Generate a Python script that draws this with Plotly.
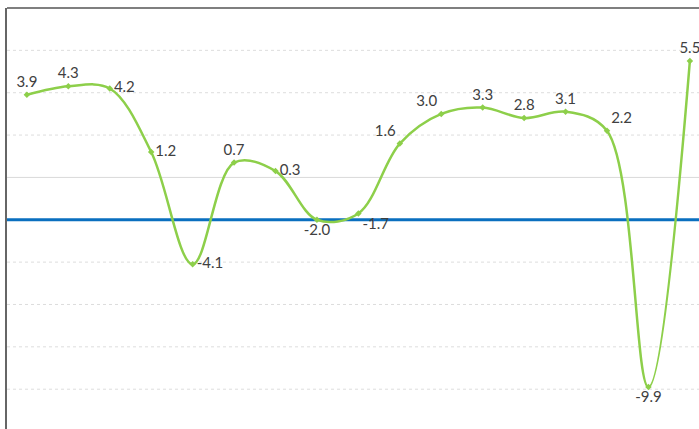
import plotly.graph_objects as go

categories = list(range(17))
values = [3.9, 4.3, 4.2, 1.2, -4.1, 0.7, 0.3, -2.0, -1.7, 1.6, 3.0, 3.3, 2.8, 3.1, 2.2, -9.9, 5.5]
labels = ["3.9", "4.3", "4.2", "1.2", "-4.1", "0.7", "0.3", "-2.0", "-1.7", "1.6",
          "3.0", "3.3", "2.8", "3.1", "2.2", "-9.9", "5.5"]
label_pos = ["top center", "top center", "middle right", "middle right", "middle right",
             "top center", "middle right", "bottom center", "bottom right", "top left",
             "top left", "top center", "top center", "top center", "top right",
             "bottom center", "top center"]
grid_vals = [6, 4, 2, -4, -6, -8, -10]
baseline_value = -2

fig = go.Figure()
for g in grid_vals:
    fig.add_shape(type="line", xref="paper", yref="y", x0=0, x1=1, y0=g, y1=g,
                  line=dict(color="#dddddd", width=1, dash="dot"), layer="below")
fig.add_shape(type="line", xref="paper", yref="y", x0=0, x1=1, y0=0, y1=0,
              line=dict(color="#d9d9d9", width=1), layer="below")
fig.add_shape(type="line", xref="paper", yref="y", x0=0, x1=1,
              y0=baseline_value, y1=baseline_value,
              line=dict(color="#0a6fbf", width=3), layer="below")
fig.add_shape(type="line", xref="paper", yref="paper", x0=0, x1=1, y0=1, y1=1,
              line=dict(color="#555555", width=1.5))

fig.add_trace(go.Scatter(
    x=categories, y=values, mode="lines+markers+text",
    line=dict(color="#8dcf4a", width=2.5, shape="spline", smoothing=1.0),
    marker=dict(color="#8dcf4a", size=5, symbol="diamond"),
    text=labels, textposition=label_pos,
    textfont=dict(family="Lato, Open Sans, sans-serif", size=15, color="#404040"),
    cliponaxis=False, hoverinfo="skip",
))

fig.update_layout(
    width=699, height=429,
    margin=dict(l=7, r=0, t=8, b=0),
    paper_bgcolor="white", plot_bgcolor="white",
    showlegend=False,
    xaxis=dict(range=[-0.48, 16.22], showgrid=False, zeroline=False,
               showticklabels=False, ticks="", showline=False),
    yaxis=dict(range=[-11.88, 8], showgrid=False, zeroline=False,
               showticklabels=False, ticks="", showline=True,
               linecolor="#666666", linewidth=2),
)

fig.write_html("out.html", config={"displayModeBar": False},
               post_script="document.body.style.margin='0';")
